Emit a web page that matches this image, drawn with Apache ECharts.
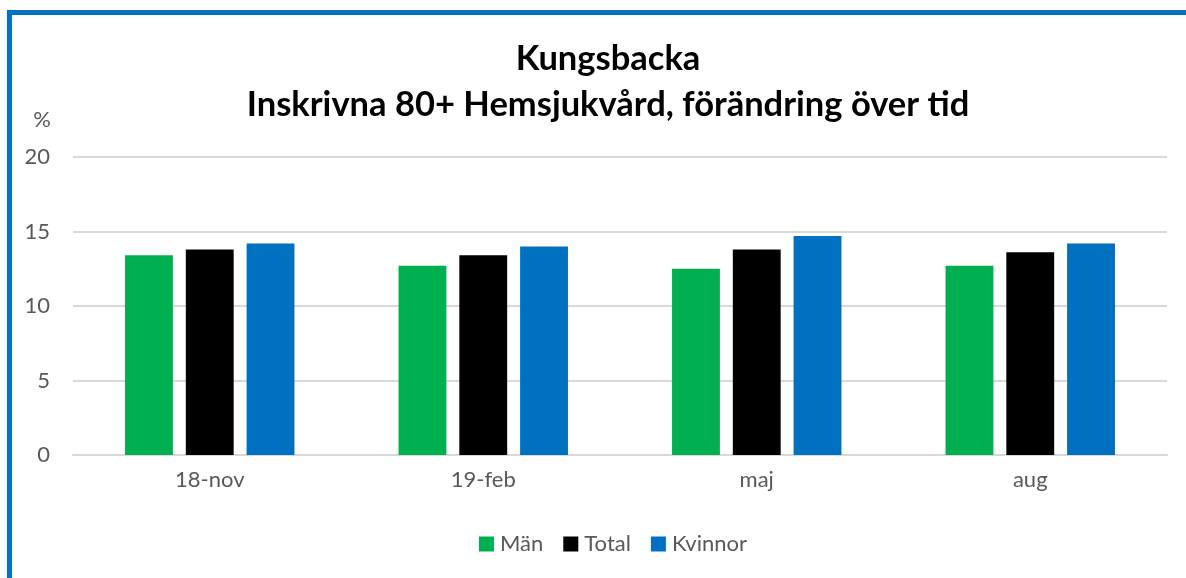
<!DOCTYPE html>
<html>
<head>
<meta charset="utf-8">
<script src="https://cdn.jsdelivr.net/npm/echarts@6/dist/echarts.min.js"></script>
<style>
  html, body { margin: 0; padding: 0; background: #fff; }
  #frame {
    position: absolute; left: 7px; top: 10px; width: 1200px; height: 600px;
    border-left: 5px solid #0070c0; border-top: 5px solid #0070c0;
  }
  #chart { position: absolute; left: 0; top: 0; width: 1186px; height: 578px; }
</style>
</head>
<body>
<div id="frame"></div>
<div id="chart"></div>
<script>
// kategorier och värden (%)
var categories = ["18-nov", "19-feb", "maj", "aug"];
var man = [13.4, 12.7, 12.5, 12.7];
var total = [13.8, 13.4, 13.8, 13.6];
var kvinnor = [14.2, 14.0, 14.7, 14.2];
var yTicks = [0, 5, 10, 15, 20];

var font = "Lato, 'Open Sans', sans-serif";
var myChart = echarts.init(document.getElementById("chart"));
var option = {
  animation: false,
  title: {
    text: "Kungsbacka\nInskrivna 80+ Hemsjukvård, förändring över tid",
    left: 603,
    textAlign: "center",
    top: 31,
    textStyle: {
      fontFamily: font,
      fontWeight: "bold",
      fontSize: 34.5,
      lineHeight: 46,
      color: "#000"
    }
  },
  legend: {
    data: ["Män", "Total", "Kvinnor"],
    bottom: 18,
    left: 474,
    itemWidth: 15,
    itemHeight: 15,
    itemGap: 20,
    icon: "rect",
    textStyle: { fontFamily: font, fontSize: 22, color: "#595959", padding: [0, 0, 0, 1] }
  },
  grid: { left: 73, right: 19, top: 157, bottom: 123 },
  xAxis: {
    type: "category",
    data: categories,
    axisLine: { lineStyle: { color: "#d9d9d9", width: 2 } },
    axisTick: { show: false },
    axisLabel: { fontFamily: font, fontSize: 22, color: "#595959", margin: 14 }
  },
  yAxis: {
    type: "value",
    name: "%",
    nameGap: 26,
    nameLocation: "end",
    nameTextStyle: { fontFamily: font, fontSize: 22, color: "#595959", align: "right", padding: [0, 22, 0, 0] },
    min: yTicks[0],
    max: yTicks[yTicks.length - 1],
    interval: 5,
    axisLine: { show: false },
    axisTick: { show: false },
    axisLabel: { fontFamily: font, fontSize: 22, color: "#595959", margin: 23 },
    splitLine: { lineStyle: { color: "#d9d9d9", width: 2 } }
  },
  series: [
    { name: "Män", type: "bar", data: man, barWidth: "17.5%", barGap: "27%", color: "#00b050" },
    { name: "Total", type: "bar", data: total, barWidth: "17.5%", barGap: "27%", color: "#000000" },
    { name: "Kvinnor", type: "bar", data: kvinnor, barWidth: "17.5%", barGap: "27%", color: "#0070c0" }
  ]
};
myChart.setOption(option);
</script>
</body>
</html>
